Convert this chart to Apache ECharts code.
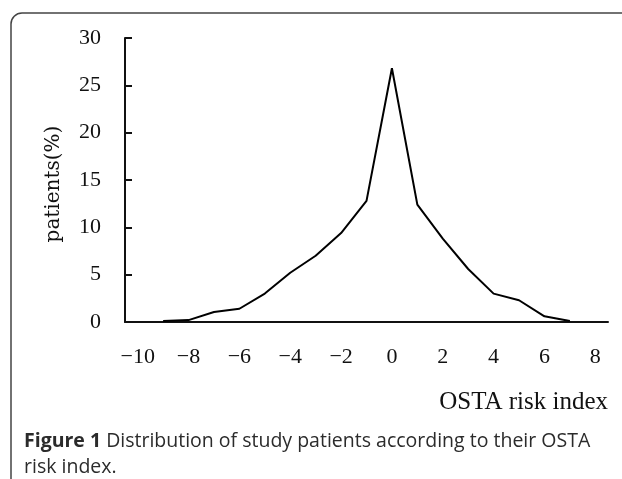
<!DOCTYPE html>
<html lang="en">
<head>
    <meta charset="UTF-8">
    <title>OSTA risk index</title>
    <script src="https://cdn.jsdelivr.net/npm/echarts@6/dist/echarts.min.js"></script>
    <style>
        html, body {
            margin: 0;
            padding: 0;
            width: 100%;
            height: 100%;
            background: #fff;
        }
        #chart {
            width: 622px;
            height: 479px;
        }
    </style>
</head>
<body>
<div id="chart"></div>
<script type="text/javascript">
    // OSTA risk index categories (-10 .. 8)
    var riskIndex = ['-10', '-9', '-8', '-7', '-6', '-5', '-4', '-3', '-2', '-1',
        '0', '1', '2', '3', '4', '5', '6', '7', '8'];
    // patients (%) per index
    var patients = [null, 0.1, 0.2, 1.05, 1.4, 3.0, 5.2, 7.0, 9.4, 12.8,
        26.8, 12.4, 8.8, 5.6, 3.0, 2.3, 0.6, 0.1, null];

    var yTicks = [0, 30, 5];   // min, max, step

    var serif = '"Liberation Serif", "DejaVu Serif", serif';
    var sans = '"Open Sans", "Noto Sans", sans-serif';

    var myChart = echarts.init(document.getElementById('chart'));

    var option = {
        backgroundColor: '#fff',
        animation: false,
        title: {
            left: 19,
            top: 423,
            text: '{b|Figure 1} Distribution of study patients according to their OSTA\nrisk index.',
            textStyle: {
                fontFamily: sans,
                fontSize: 19.5,
                fontWeight: 'normal',
                color: '#2b2b2b',
                lineHeight: 26,
                rich: {
                    b: {
                        fontFamily: sans,
                        fontSize: 19.5,
                        fontWeight: 'bold',
                        color: '#2b2b2b',
                        lineHeight: 26
                    }
                }
            }
        },
        graphic: [{
            // figure frame (only top and left edges show)
            type: 'rect',
            shape: {x: 11, y: 13, width: 700, height: 600, r: 11},
            style: {fill: null, stroke: '#444', lineWidth: 1.5},
            silent: true
        }],
        grid: {
            left: 125,
            right: 14,
            top: 38,
            bottom: 157
        },
        xAxis: {
            type: 'category',
            data: riskIndex,
            boundaryGap: true,
            name: 'OSTA risk index',
            nameLocation: 'end',
            nameGap: 0,
            nameTextStyle: {
                fontFamily: serif,
                fontSize: 25,
                color: '#111',
                align: 'right',
                verticalAlign: 'top',
                padding: [68, 0, 0, 0]
            },
            axisLine: {lineStyle: {color: '#111', width: 2}},
            axisTick: {show: false},
            axisLabel: {
                interval: 1,
                margin: 24,
                fontFamily: serif,
                fontSize: 22,
                color: '#111',
                formatter: function (v) {
                    return v.replace('-', '\u2212');
                }
            },
            splitLine: {show: false}
        },
        yAxis: {
            type: 'value',
            min: yTicks[0],
            max: yTicks[1],
            interval: yTicks[2],
            name: 'patients(%)',
            nameLocation: 'middle',
            nameGap: 61,
            nameRotate: 90,
            nameTextStyle: {
                fontFamily: '"DejaVu Serif", serif',
                fontSize: 20,
                color: '#111',
                padding: [0, 8, 0, 0]
            },
            axisLine: {show: true, lineStyle: {color: '#111', width: 2}},
            axisTick: {show: true, inside: true, length: 7, lineStyle: {color: '#111', width: 2}},
            axisLabel: {
                margin: 24,
                fontFamily: serif,
                fontSize: 22,
                color: '#111'
            },
            splitLine: {show: false}
        },
        series: [{
            name: 'patients',
            type: 'line',
            data: patients,
            symbol: 'none',
            connectNulls: false,
            lineStyle: {color: '#000', width: 2}
        }]
    };

    myChart.setOption(option);
</script>
</body>
</html>
